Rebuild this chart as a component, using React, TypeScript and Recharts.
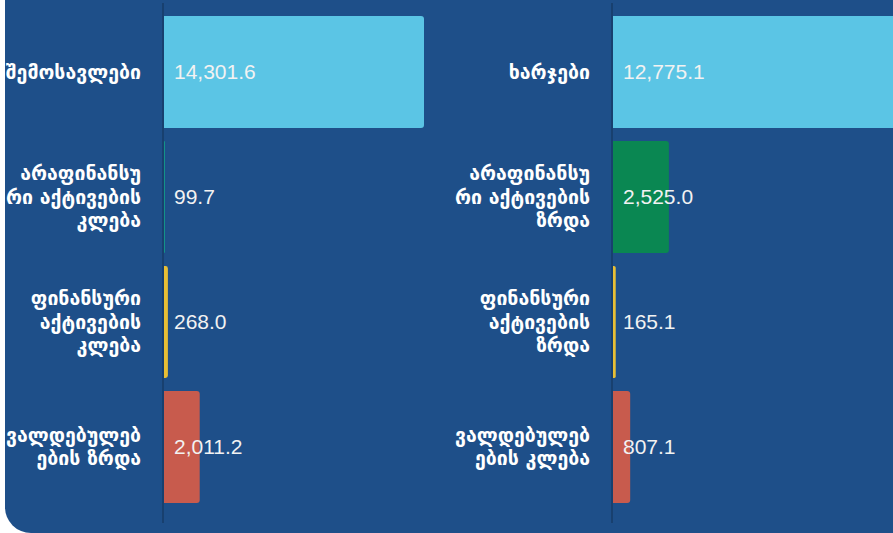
import { BarChart, Bar, XAxis, YAxis, Cell, LabelList } from "recharts";

const leftCategories = [
  "შემოსავლები",
  "არაფინანსუ\nრი აქტივების\nკლება",
  "ფინანსური\nაქტივების\nკლება",
  "ვალდებულებ\nების ზრდა",
];
const leftValues = [14301.6, 99.7, 268.0, 2011.2];
const leftColors = ["#5bc5e5", "#12a38a", "#e8bf35", "#c85b4d"];

const rightCategories = [
  "ხარჯები",
  "არაფინანსუ\nრი აქტივების\nზრდა",
  "ფინანსური\nაქტივების\nზრდა",
  "ვალდებულებ\nების კლება",
];
const rightValues = [12775.1, 2525.0, 165.1, 807.1];
const rightColors = ["#5bc5e5", "#0a8752", "#e8bf35", "#c85b4d"];

const BG = "#1e4f89";
const AXIS = "#18406f";

const fmt = (v: number) =>
  v.toLocaleString("en-US", { minimumFractionDigits: 1, maximumFractionDigits: 1 });

function WrapTick(props: any) {
  const { x, y, payload } = props;
  const lines = String(payload.value).split("\n");
  const lh = 23.5;
  const first = -((lines.length - 1) * lh) / 2;
  return (
    <text
      x={x}
      y={y}
      textAnchor="end"
      fill="#ffffff"
      fontSize={19.5}
      fontWeight="bold"
      fontFamily="'DejaVu Sans', sans-serif"
    >
      {lines.map((l, i) => (
        <tspan key={i} x={x} y={y + first + i * lh} dy="0.36em">
          {l}
        </tspan>
      ))}
    </text>
  );
}

function Panel({
  categories,
  values,
  colors,
  max,
  width,
  axisWidth,
}: {
  categories: string[];
  values: number[];
  colors: string[];
  max: number;
  width: number;
  axisWidth: number;
}) {
  const data = categories.map((name, i) => ({ name, value: values[i] }));
  return (
    <BarChart
      width={width}
      height={533}
      data={data}
      layout="vertical"
      margin={{ top: 3, right: 0, bottom: 10, left: 0 }}
    >
      <XAxis type="number" domain={[0, max]} hide />
      <YAxis
        type="category"
        dataKey="name"
        width={axisWidth}
        padding={{ top: 6, bottom: 14 }}
        axisLine={{ stroke: AXIS, strokeWidth: 2 }}
        tickLine={false}
        tickSize={0}
        tickMargin={22}
        interval={0}
        tick={<WrapTick />}
      />
      <Bar dataKey="value" barSize={112} radius={[0, 3, 3, 0]} isAnimationActive={false}>
        {data.map((_, i) => (
          <Cell key={i} fill={colors[i]} />
        ))}
        <LabelList
          dataKey="value"
          position="insideLeft"
          offset={11}
          formatter={(v: any) => fmt(Number(v))}
          fill="#f2f2f2"
          fontSize={21}
          fontFamily="'Liberation Sans', Arial, sans-serif"
        />
      </Bar>
    </BarChart>
  );
}

export default function App() {
  return (
    <div
      style={{
        position: "fixed",
        left: 0,
        top: 0,
        width: 893,
        height: 533,
        overflow: "hidden",
        background: "#ffffff",
      }}
    >
      <div
        style={{
          position: "absolute",
          left: 5,
          top: -30,
          width: 960,
          height: 563,
          background: BG,
          borderBottomLeftRadius: 26,
        }}
      />
      <div style={{ position: "absolute", left: 5, top: 0, display: "flex", width: 960 }}>
        <Panel categories={leftCategories} values={leftValues} colors={leftColors} max={16000} width={450} axisWidth={158} />
        <Panel categories={rightCategories} values={rightValues} colors={rightColors} max={13000} width={450} axisWidth={157} />
      </div>
    </div>
  );
}
